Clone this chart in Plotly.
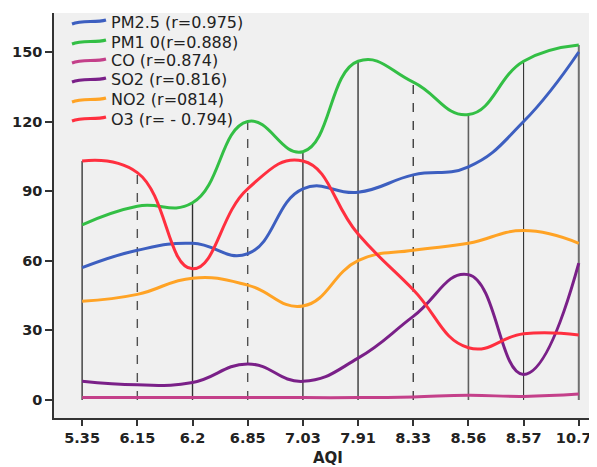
import plotly.graph_objects as go

categories = ["5.35", "6.15", "6.2", "6.85", "7.03", "7.91", "8.33", "8.56", "8.57", "10.76"]

pm25 = [57, 64.5, 67.5, 63, 91, 89.5, 97, 100.5, 120, 150]
pm10 = [75.5, 83.5, 85, 120, 107, 146, 137, 123, 146, 153]
co = [1, 1, 1, 1, 1, 1, 1.3, 2, 1.5, 2.5]
so2 = [8, 6.5, 7.5, 15.5, 8, 18, 36, 54, 11, 59]
no2 = [42.5, 45.5, 52.5, 49.5, 40.5, 60, 64.5, 67.5, 73, 67.5]
o3 = [103, 98, 56.5, 91, 103, 71.5, 47.5, 22.5, 28.5, 28]

names = ["PM2.5 (r=0.975)", "PM1 0(r=0.888)", "CO (r=0.874)",
         "SO2 (r=0.816)", "NO2 (r=0814)", "O3 (r= - 0.794)"]
colors = ["#3d5fc0", "#33bf45", "#c4408a", "#7a2088", "#ffa325", "#ff2f3f"]

# drop-line style per category
drop_dash = ["solid", "dash", "solid", "dash", "solid", "solid", "dash", "solid", "solid", "solid"]
drop_color = ["#505050", "#505050", "#303030", "#505050", "#505050", "#505050",
              "#303030", "#606060", "#202020", "#707070"]
drop_width = [1.6, 1.4, 1.4, 1.4, 1.6, 1.6, 1.3, 1.6, 1.0, 2.0]

series = [pm25, pm10, co, so2, no2, o3]

# page is offset by the default 8px body margin
OFF = 8
W, H = 597 - OFF, 467 - OFF
L, R, T, B = 46, 0, 5, 49
PW, PH = W - L - R, H - T - B

FONT = "DejaVu Sans, Verdana, sans-serif"
FONTB = "DejaVu Sans, Verdana, sans-serif"

def px2paper(xp, yp):
    """page pixel -> paper coords"""
    return (xp - OFF - L) / PW, (H - B - (yp - OFF)) / PH

fig = go.Figure()

for i, c in enumerate(categories):
    top = max(s[i] for s in series)
    fig.add_trace(go.Scatter(
        x=[c, c], y=[0, top], mode="lines",
        line=dict(color=drop_color[i], width=drop_width[i], dash=drop_dash[i]),
        showlegend=False, hoverinfo="skip"))

for s, n, col in zip(series, names, colors):
    fig.add_trace(go.Scatter(
        x=categories, y=s, mode="lines", name=n,
        line=dict(color=col, width=3, shape="spline", smoothing=1.3),
        showlegend=False))

# manual legend (compact spacing like the reference)
leg_y = [22, 42, 61, 80, 100, 119]
for n, col, yy in zip(names, colors, leg_y):
    x0, y0 = px2paper(72, yy + 2)
    x1, y1 = px2paper(82, yy - 2)
    x2, y2 = px2paper(96, yy + 1)
    x3, y3 = px2paper(106, yy - 2)
    fig.add_shape(type="path", xref="paper", yref="paper",
                  path=f"M {x0},{y0} C {x1},{y1} {x2},{y2} {x3},{y3}",
                  line=dict(color=col, width=3))
    tx, ty = px2paper(109, yy)
    fig.add_annotation(text=n, xref="paper", yref="paper", x=tx, y=ty,
                       xanchor="left", yanchor="middle", showarrow=False,
                       font=dict(size=16, color="#222", family=FONT))

fig.update_layout(
    width=W, height=H,
    margin=dict(l=L, r=R, t=T, b=B, autoexpand=False),
    paper_bgcolor="white",
    plot_bgcolor="#f0f0f0",
    font=dict(family=FONT, color="#111"),
    showlegend=False,
)

fig.update_xaxes(
    type="category", categoryorder="array", categoryarray=categories,
    range=[-0.51, 9.33], automargin=False,
    showgrid=False, zeroline=False,
    showline=True, linecolor="#333", linewidth=1.5,
    ticks="outside", ticklen=6, tickcolor="#333", tickwidth=1.5,
    tickfont=dict(size=14.5, color="#222", family=FONTB, weight="bold"),
)
fig.update_yaxes(
    range=[-7.8, 166.8], automargin=False,
    tickvals=[0, 30, 60, 90, 120, 150],
    showgrid=False, zeroline=False,
    showline=True, linecolor="#333", linewidth=1.5,
    ticks="outside", ticklen=7, tickcolor="#333", tickwidth=1.5,
    tickfont=dict(size=14.5, color="#222", family=FONTB, weight="bold"),
)

ax, ay = px2paper(328, 458)
fig.add_annotation(text="<b>AQI</b>", xref="paper", yref="paper",
                   x=ax, y=ay, showarrow=False,
                   xanchor="center", yanchor="middle",
                   font=dict(size=15, color="#222", family=FONTB))

fig.write_html("out.html")
